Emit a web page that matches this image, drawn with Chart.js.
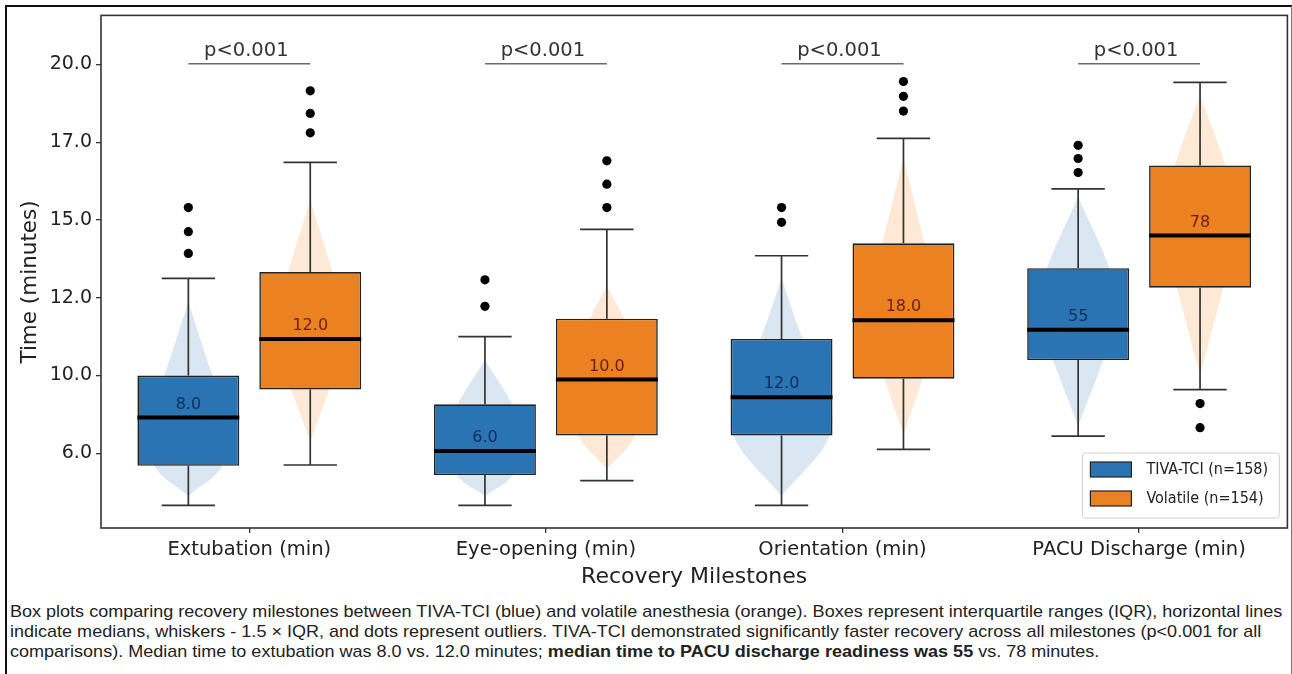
<!DOCTYPE html>
<html>
<head>
<meta charset="utf-8">
<script src="https://cdn.jsdelivr.net/npm/chart.js@4.4.1/dist/chart.umd.min.js"></script>
<style>
html,body{margin:0;padding:0;background:#fff;}
#wrap{position:relative;width:1292px;height:674px;overflow:hidden;background:#fff;}
#frame{position:absolute;left:5px;top:5px;width:1284px;height:720px;border-left:2px solid #111;border-top:2px solid #111;border-right:1px solid #777;box-sizing:content-box;}
#c{position:absolute;left:0;top:0;}
#caption{position:absolute;left:10px;top:602px;width:1230px;font-family:"Liberation Sans",Arial,sans-serif;font-size:17px;line-height:20px;color:#222;white-space:nowrap;transform:scaleX(1.06);transform-origin:0 0;}
</style>
</head>
<body>
<div id="wrap">
  <div id="frame"></div>
  <canvas id="c" width="1292" height="600"></canvas>
  <div id="caption">Box plots comparing recovery milestones between TIVA-TCI (blue) and volatile anesthesia (orange). Boxes represent interquartile ranges (IQR), horizontal lines<br>indicate medians, whiskers - 1.5 × IQR, and dots represent outliers. TIVA-TCI demonstrated significantly faster recovery across all milestones (p&lt;0.001 for all<br>comparisons). Median time to extubation was 8.0 vs. 12.0 minutes; <b>median time to PACU discharge readiness was 55</b> vs. 78 minutes.</div>
</div>
<script>
// ---------------- data (y values in axis-position units: 0 = tick "6.0" ... 5 = tick "20.0") ----------------
const categories = ['Extubation (min)', 'Eye-opening (min)', 'Orientation (min)', 'PACU Discharge (min)'];
const yTickLabels = ['6.0', '10.0', '12.0', '15.0', '17.0', '20.0'];
const seriesNames = ['TIVA-TCI (n=158)', 'Volatile (n=154)'];

const tivaLower  = [-0.67, -0.67, -0.67, 0.22];
const tivaQ1     = [-0.16, -0.28, 0.23, 1.20];
const tivaMedian = [0.46, 0.03, 0.72, 1.59];
const tivaQ3     = [1.00, 0.63, 1.47, 2.38];
const tivaUpper  = [2.25, 1.50, 2.54, 3.40];
const tivaOutliers = [[2.57, 2.85, 3.16], [1.89, 2.23], [2.97, 3.16], [3.61, 3.79, 3.96]];
const tivaMedianLabels = ['8.0', '6.0', '12.0', '55'];
// violin profiles: [y, relative density]
const tivaViolin = [
  [[-0.55, 0], [-0.15, 0.68], [0.5, 0.8], [1.0, 0.48], [1.95, 0]],
  [[-0.55, 0], [-0.28, 0.56], [0.2, 0.8], [0.63, 0.54], [1.2, 0]],
  [[-0.55, 0], [0.23, 0.96], [0.8, 0.9], [1.47, 0.42], [2.25, 0]],
  [[0.35, 0], [1.2, 0.5], [1.8, 0.84], [2.38, 0.62], [3.3, 0]]
];

const volLower  = [-0.15, -0.35, 0.05, 0.82];
const volQ1     = [0.82, 0.23, 0.96, 2.13];
const volMedian = [1.47, 0.95, 1.71, 2.80];
const volQ3     = [2.33, 1.73, 2.70, 3.70];
const volUpper  = [3.74, 2.88, 4.05, 4.77];
const volOutliers = [[4.12, 4.37, 4.66], [3.16, 3.46, 3.76], [4.40, 4.59, 4.78], [0.33, 0.64]];
const volMedianLabels = ['12.0', '10.0', '18.0', '78'];
const volViolin = [
  [[0.15, 0], [0.82, 0.38], [1.5, 0.8], [2.33, 0.44], [3.25, 0]],
  [[-0.2, 0], [0.23, 0.56], [1.0, 0.8], [1.73, 0.34], [2.15, 0]],
  [[0.25, 0], [0.96, 0.38], [1.8, 0.8], [2.7, 0.42], [3.8, 0]],
  [[1.0, 0], [2.13, 0.46], [2.9, 0.8], [3.7, 0.5], [4.6, 0]]
];

const pLabels = ['p<0.001', 'p<0.001', 'p<0.001', 'p<0.001'];
const pBracketY = [5.01, 5.01, 5.01, 5.01];

// ---------------- styles ----------------
const BOX_COLORS = ['#2b74b4', '#ec8122'];
const VIOLIN_COLORS = ['#dae7f2', '#fde9d6'];
const LABEL_COLORS = ['#0e2d5a', '#6a1d0b'];
const CAT_PCT = 0.822, BAR_PCT = 0.836;
const GROUP_OFFSET = CAT_PCT / 4;
const BOX_HALF = CAT_PCT * BAR_PCT / 4;
const CAP_HALF = 0.09;
const VIOLIN_HALF = 0.17;
const FONT = '"DejaVu Sans", sans-serif';

const series = [
  {name: seriesNames[0], lower: tivaLower, q1: tivaQ1, median: tivaMedian, q3: tivaQ3, upper: tivaUpper,
   outliers: tivaOutliers, labels: tivaMedianLabels, violin: tivaViolin},
  {name: seriesNames[1], lower: volLower, q1: volQ1, median: volMedian, q3: volQ3, upper: volUpper,
   outliers: volOutliers, labels: volMedianLabels, violin: volViolin}
];
const sx = (s, i) => i + (s === 0 ? -GROUP_OFFSET : GROUP_OFFSET);

const datasets = [];
// violins (two halves each, filled toward the centre line)
series.forEach((S, s) => S.violin.forEach((prof, i) => {
  const cx = sx(s, i);
  [-1, 1].forEach(side => datasets.push({
    type: 'line', indexAxis: 'y', order: 60,
    data: prof.map(([y, d]) => ({x: cx + side * d * VIOLIN_HALF, y})),
    fill: {value: cx}, backgroundColor: VIOLIN_COLORS[s], borderWidth: 0,
    pointRadius: 0, tension: 0.35
  }));
}));
// whiskers and caps
series.forEach((S, s) => {
  const pts = [];
  categories.forEach((c, i) => {
    const cx = sx(s, i);
    pts.push({x: cx, y: S.q3[i]}, {x: cx, y: S.upper[i]}, {x: cx, y: null},
             {x: cx - CAP_HALF, y: S.upper[i]}, {x: cx + CAP_HALF, y: S.upper[i]}, {x: cx, y: null},
             {x: cx, y: S.q1[i]}, {x: cx, y: S.lower[i]}, {x: cx, y: null},
             {x: cx - CAP_HALF, y: S.lower[i]}, {x: cx + CAP_HALF, y: S.lower[i]}, {x: cx, y: null});
  });
  datasets.push({type: 'line', order: 40, data: pts, borderColor: '#333', borderWidth: 1.7,
    pointRadius: 0, fill: false, tension: 0, spanGaps: false});
});
// boxes
series.forEach((S, s) => datasets.push({
  type: 'bar', label: S.name, order: 30,
  data: categories.map((c, i) => ({x: i, y: [S.q1[i], S.q3[i]]})),
  backgroundColor: BOX_COLORS[s], borderColor: '#222', borderWidth: 1.6, borderSkipped: false,
  categoryPercentage: CAT_PCT, barPercentage: BAR_PCT
}));
// medians
series.forEach((S, s) => {
  const pts = [];
  categories.forEach((c, i) => {
    const cx = sx(s, i);
    pts.push({x: cx - BOX_HALF, y: S.median[i]}, {x: cx + BOX_HALF, y: S.median[i]}, {x: cx, y: null});
  });
  datasets.push({type: 'line', order: 20, data: pts, borderColor: '#000', borderWidth: 4,
    borderCapStyle: 'butt', pointRadius: 0, fill: false, tension: 0, spanGaps: false});
});
// outliers
series.forEach((S, s) => datasets.push({
  type: 'scatter', order: 10,
  data: S.outliers.flatMap((arr, i) => arr.map(v => ({x: sx(s, i), y: v}))),
  backgroundColor: '#000', borderWidth: 0, pointRadius: 4.6
}));
// significance brackets
{
  const pts = [];
  categories.forEach((c, i) => {
    pts.push({x: sx(0, i), y: pBracketY[i]}, {x: sx(1, i), y: pBracketY[i]}, {x: i, y: null});
  });
  datasets.push({type: 'line', order: 10, data: pts, borderColor: '#6a6a6a', borderWidth: 1.5,
    pointRadius: 0, fill: false, tension: 0, spanGaps: false});
}

const annot = {
  id: 'annot',
  afterDatasetsDraw(chart) {
    const {ctx, chartArea: a} = chart;
    const x = chart.scales.x, y = chart.scales.y;
    ctx.save();
    // median labels
    ctx.font = '16px ' + FONT;
    ctx.textAlign = 'center';
    ctx.textBaseline = 'middle';
    series.forEach((S, s) => S.labels.forEach((t, i) => {
      ctx.fillStyle = LABEL_COLORS[s];
      ctx.fillText(t, x.getPixelForValue(sx(s, i)), y.getPixelForValue(S.median[i]) - 13);
    }));
    // p-value labels
    ctx.font = '19.5px ' + FONT;
    ctx.fillStyle = '#333';
    ctx.textBaseline = 'alphabetic';
    pLabels.forEach((t, i) => {
      ctx.fillText(t, x.getPixelForValue(i) - 3, y.getPixelForValue(pBracketY[i]) - 8);
    });
    // spines
    ctx.strokeStyle = '#333';
    ctx.lineWidth = 1.6;
    ctx.strokeRect(a.left, a.top, a.right - a.left, a.bottom - a.top);
    // legend
    const lx = a.right - 205, ly = a.bottom - 75, lw = 197, lh = 65;
    ctx.fillStyle = 'rgba(255,255,255,0.85)';
    ctx.strokeStyle = '#d0d0d0';
    ctx.lineWidth = 1;
    ctx.beginPath();
    ctx.roundRect(lx, ly, lw, lh, 3);
    ctx.fill();
    ctx.stroke();
    ctx.font = '16px "DejaVu Sans Condensed", ' + FONT;
    ctx.textAlign = 'left';
    ctx.textBaseline = 'middle';
    series.forEach((S, s) => {
      const ry = ly + 9 + s * 29;
      ctx.fillStyle = BOX_COLORS[s];
      ctx.fillRect(lx + 8, ry, 41, 15);
      ctx.strokeStyle = '#222';
      ctx.lineWidth = 1.2;
      ctx.strokeRect(lx + 8, ry, 41, 15);
      ctx.fillStyle = '#222';
      ctx.fillText(S.name, lx + 64, ry + 8);
    });
    ctx.restore();
  }
};

new Chart(document.getElementById('c'), {
  type: 'bar',
  data: {datasets},
  options: {
    responsive: false,
    animation: false,
    events: [],
    layout: {padding: {top: 13, right: 4, left: 0, bottom: 0}},
    plugins: {legend: {display: false}, tooltip: {enabled: false}},
    scales: {
      x: {
        type: 'linear', min: -0.5, max: 3.5, offset: false,
        afterBuildTicks: sc => { sc.ticks = categories.map((c, i) => ({value: i})); },
        afterFit: sc => { sc.height = 72; },
        ticks: {callback: v => categories[v], autoSkip: false, maxRotation: 0, padding: 5,
                font: {family: FONT, size: 19.5}, color: '#222'},
        grid: {display: true, drawOnChartArea: false, drawTicks: true, tickLength: 5, color: '#333', lineWidth: 1.3, offset: false},
        border: {display: false},
        title: {display: true, text: 'Recovery Milestones', font: {family: FONT, size: 22}, color: '#222',
                padding: {top: 0, bottom: 10}}
      },
      y: {
        type: 'linear', min: -0.96, max: 5.63,
        afterBuildTicks: sc => { sc.ticks = yTickLabels.map((t, i) => ({value: i})); },
        afterFit: sc => { sc.width = 101; },
        ticks: {callback: v => yTickLabels[v], padding: 4, font: {family: FONT, size: 19}, color: '#222'},
        grid: {display: true, drawOnChartArea: false, drawTicks: true, tickLength: 5, color: '#333', lineWidth: 1.3},
        border: {display: false},
        title: {display: true, text: 'Time (minutes)   ', font: {family: FONT, size: 21.5}, color: '#222',
                padding: {top: 18, bottom: 0}}
      }
    }
  },
  plugins: [annot]
});
</script>
</body>
</html>
